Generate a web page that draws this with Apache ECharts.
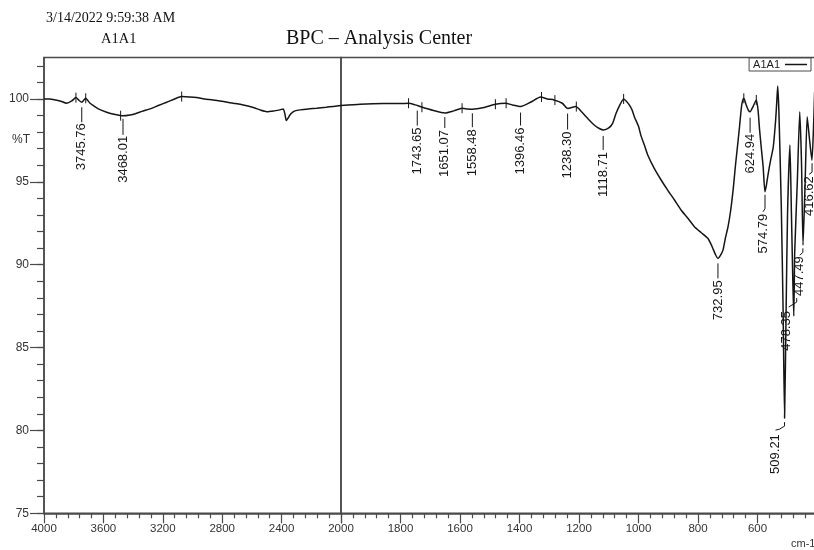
<!DOCTYPE html>
<html>
<head>
<meta charset="utf-8">
<script src="https://cdn.jsdelivr.net/npm/echarts@6/dist/echarts.min.js"></script>
<style>
  html, body { margin: 0; padding: 0; background: #fff; }
  #chart { width: 814px; height: 550px; }
</style>
</head>
<body>
<div id="chart"></div>
<script>
// FTIR transmittance spectrum of sample A1A1: wavenumber (cm-1) vs %T.
// The wavenumber axis is split at 2000 cm-1, with an expanded scale below it.

// 4000–2000 cm-1 segment [wavenumber, %T]
const specHigh = [
  [4000, 100.0], [3960, 100.0], [3920, 99.93], [3892, 99.88], [3847, 99.74],
  [3813, 99.88], [3785, 100.08], [3765, 99.92], [3745, 99.8], [3730, 99.95],
  [3719, 100.04], [3705, 99.9], [3690, 99.74], [3660, 99.55], [3634, 99.4],
  [3578, 99.2], [3520, 99.06], [3470, 98.98], [3420, 99.03], [3380, 99.12],
  [3340, 99.25], [3286, 99.4], [3230, 99.6], [3174, 99.8], [3120, 100.0],
  [3073, 100.14], [3020, 100.12], [2972, 100.08], [2920, 100.0], [2860, 99.94],
  [2790, 99.84], [2725, 99.74], [2650, 99.62], [2590, 99.48], [2540, 99.32],
  [2500, 99.23], [2450, 99.28], [2411, 99.34], [2389, 99.4], [2378, 99.1],
  [2368, 98.7], [2356, 98.85], [2343, 99.05], [2325, 99.2], [2310, 99.28],
  [2276, 99.34], [2220, 99.4], [2164, 99.44], [2100, 99.5], [2052, 99.55],
  [2000, 99.6]
];

// 2000–400 cm-1 segment [wavenumber, %T]
const specLow = [
  [2000, 99.6], [1936, 99.68], [1857, 99.72], [1801, 99.72], [1773, 99.74],
  [1750, 99.64], [1734, 99.54], [1689, 99.3], [1651, 99.15], [1621, 99.28],
  [1593, 99.44], [1575, 99.4], [1559, 99.38], [1520, 99.48], [1481, 99.68],
  [1447, 99.74], [1424, 99.64], [1396, 99.54], [1363, 99.8], [1329, 100.12],
  [1306, 100.0], [1284, 99.94], [1256, 99.74], [1238, 99.42], [1211, 99.54],
  [1190, 99.2], [1171, 98.83], [1149, 98.43], [1130, 98.2], [1118, 98.13],
  [1100, 98.25], [1087, 98.53], [1076, 99.1], [1065, 99.55], [1050, 100.0],
  [1040, 99.85], [1031, 99.64], [1022, 99.35], [1014, 98.93], [1000, 98.35],
  [992, 97.8], [980, 97.2], [969, 96.62], [947, 95.81], [924, 95.11],
  [902, 94.5], [879, 93.9], [857, 93.3], [834, 92.8], [812, 92.29],
  [789, 91.93], [767, 91.59], [758, 91.3], [750, 90.98], [741, 90.6],
  [733, 90.38], [725, 90.55], [716, 90.88], [708, 91.6], [699, 92.29],
  [690, 93.3], [682, 94.5], [674, 96.0], [665, 97.52], [660, 98.4],
  [654, 99.5], [650, 99.9], [646, 100.04], [638, 99.64], [630, 99.3],
  [625, 99.23], [615, 99.54], [604, 99.94], [598, 99.3], [593, 98.13],
  [587, 97.0], [581, 95.91], [575, 94.4], [570, 94.8], [564, 95.5],
  [556, 96.3], [547, 97.1], [539, 98.73], [535, 99.9], [532, 100.78],
  [528, 99.2], [520, 93.5], [514, 87.3], [509, 80.74], [504, 87.0],
  [499, 93.1], [491, 97.22], [486, 93.1], [481, 88.8], [478, 86.9],
  [475, 90.7], [466, 95.1], [458, 99.23], [452, 96.1], [447, 91.17],
  [440, 94.9], [433, 98.93], [426, 97.72], [417, 96.3], [412, 98.13],
  [408, 100.4]
];

// Picked absorption bands: wavenumber and %T at the band
const peakWn = [3745.76, 3468.01, 1743.65, 1651.07, 1558.48, 1396.46, 1238.30,
                1118.71, 732.95, 624.94, 574.79, 509.21, 478.35, 447.49, 416.62];
const peakT  = [99.8, 98.98, 99.6, 99.15, 99.38, 99.54, 99.42,
                98.13, 90.38, 99.23, 94.4, 80.74, 86.9, 91.17, 96.3];

// Band-limit markers drawn as short crossing ticks on the trace
const markWn = [3785, 3719, 3484, 3073, 1773, 1728, 1593, 1481, 1445, 1326, 1281, 1209, 1050, 646, 604];
const markT  = [100.08, 100.04, 98.99, 100.14, 99.74, 99.5, 99.44, 99.68, 99.74, 100.12, 99.93, 99.54, 100.0, 100.04, 99.94];

// Axis tick values
const yMajor = [75, 80, 85, 90, 95, 100];
const yMinor = [75, 76, 77, 78, 79, 80, 81, 82, 83, 84, 85, 86, 87, 88, 89, 90, 91, 92, 93, 94, 95, 96, 97, 98, 99, 100, 101, 102];

// Leader/label placement for each band label (pixel offsets from the band point)
const defaultLeader = { path: [[0, 5], [0, 20]], dx: 0, top: 22 };
const leaderLayout = {
  '3745.76': { path: [[0, 5], [0, 20]], dx: 0, top: 21 },
  '3468.01': { path: [[0, 3], [0, 19]], dx: 0, top: 20 },
  '1651.07': { path: [[0, 4], [0, 15]], dx: 0, top: 17 },
  '1558.48': { path: [[0, 4], [0, 18]], dx: 0, top: 20 },
  '1396.46': { path: [[0, 6], [0, 19]], dx: 0, top: 21 },
  '1238.30': { path: [[0, 5], [0, 21]], dx: 0, top: 23 },
  '1118.71': { path: [[0, 6], [0, 20]], dx: 0, top: 22 },
  '624.94':  { path: [[0, 6], [0, 21]], dx: 0, top: 22 },
  '574.79':  { path: [[0, 3], [0, 17], [-2, 20]], dx: -2, top: 22 },
  '509.21':  { path: [[0, 4], [0, 8], [-5, 11], [-9, 12]], dx: -9, top: 16 },
  '478.35':  { path: [[3, -18], [3, -14], [-5, -9]], dx: -7, top: -5 },
  '447.49':  { path: [[0, 3], [0, 7], [-3, 10]], dx: -3, top: 11 },
  '416.62':  { path: [[0, 3], [0, 12], [-3, 14]], dx: -3, top: 16 }
};

const INK = '#151515';
const AXIS = '#4a4a4a';
const SANS = '"Liberation Sans", Arial, sans-serif';
const SERIF = '"Liberation Serif", "Times New Roman", serif';

const peaks = peakWn.map((w, i) => [w, peakT[i]]);
const marks = markWn.map((w, i) => [w, markT[i]]);

function renderPeakLabel(params, api) {
  const wn = api.value(0);
  const text = wn.toFixed(2);
  const p = api.coord([wn, api.value(1)]);
  const lay = leaderLayout[text] || defaultLeader;
  const pts = lay.path.map(d => [p[0] + d[0], p[1] + d[1]]);
  return {
    type: 'group',
    children: [
      { type: 'polyline', shape: { points: pts },
        style: { stroke: INK, lineWidth: 1, fill: 'none' } },
      { type: 'text', x: p[0] + lay.dx, y: p[1] + lay.top, rotation: Math.PI / 2,
        style: { text: text, align: 'right', verticalAlign: 'middle',
                 font: '13px ' + SANS, fill: INK } }
    ]
  };
}

function renderMark(params, api) {
  const p = api.coord([api.value(0), api.value(1)]);
  return { type: 'line', shape: { x1: p[0], y1: p[1] - 5, x2: p[0], y2: p[1] + 5 },
           style: { stroke: INK, lineWidth: 1 } };
}

const xCommon = {
  type: 'value', inverse: true,
  axisLine: { show: true, lineStyle: { color: AXIS, width: 1.5 } },
  axisTick: { show: true, length: 10, lineStyle: { color: AXIS, width: 1.2 } },
  minorTick: { show: true, splitNumber: 5, length: 5, lineStyle: { color: AXIS, width: 1.2 } },
  axisLabel: { fontFamily: SANS, fontSize: 11.5, color: '#333', margin: 10,
               formatter: v => String(v) },
  splitLine: { show: false }, minorSplitLine: { show: false }
};

const chart = echarts.init(document.getElementById('chart'), null, { renderer: 'canvas' });
chart.setOption({
  animation: false,
  backgroundColor: '#fff',
  grid: [
    { left: 44, top: 57.5, width: 297, bottom: 36.7, show: true, outerBoundsMode: 'none',
      containLabel: false, borderColor: AXIS, borderWidth: 1.5, backgroundColor: 'transparent' },
    { left: 341, top: 57.5, width: 476, bottom: 36.7, show: true, outerBoundsMode: 'none',
      containLabel: false, borderColor: AXIS, borderWidth: 1.5, backgroundColor: 'transparent' }
  ],
  xAxis: [
    Object.assign({}, xCommon, { gridIndex: 0, min: 2000, max: 4000, interval: 400 }),
    Object.assign({}, xCommon, { gridIndex: 1, min: 400, max: 2000, interval: 200,
      axisLabel: Object.assign({}, xCommon.axisLabel, {
        formatter: v => (v === 2000 || v === 400) ? '' : String(v) }) })
  ],
  yAxis: [
    { type: 'value', gridIndex: 0, min: 75, max: 102.5, position: 'left',
      axisLine: { show: true, lineStyle: { color: AXIS, width: 1.5 } },
      axisTick: { show: true, length: 14, customValues: yMajor, lineStyle: { color: AXIS, width: 1.2 } },
      axisLabel: { customValues: yMajor, fontFamily: SANS, fontSize: 12, color: '#333', margin: 15 },
      splitLine: { show: false } },
    { type: 'value', gridIndex: 0, min: 75, max: 102.5, position: 'left',
      axisLine: { show: false },
      axisTick: { show: true, length: 7, customValues: yMinor, lineStyle: { color: AXIS, width: 1.2 } },
      axisLabel: { show: false }, splitLine: { show: false } },
    { type: 'value', gridIndex: 1, min: 75, max: 102.5,
      axisLine: { show: false }, axisTick: { show: false },
      axisLabel: { show: false }, splitLine: { show: false } }
  ],
  legend: {
    data: ['A1A1'], right: 3, top: 58, orient: 'horizontal', align: 'right',
    icon: 'rect', itemWidth: 22, itemHeight: 1.5, padding: [1, 4, 1, 4],
    borderColor: AXIS, borderWidth: 1, backgroundColor: '#fff',
    textStyle: { fontFamily: SANS, fontSize: 11, color: '#222' }
  },
  series: [
    { name: 'A1A1', type: 'line', xAxisIndex: 0, yAxisIndex: 0, data: specHigh,
      symbol: 'none', smooth: 0.2, lineStyle: { color: INK, width: 1.5 }, itemStyle: { color: INK } },
    { name: 'A1A1', type: 'line', xAxisIndex: 1, yAxisIndex: 2, data: specLow,
      symbol: 'none', smooth: 0.2, lineStyle: { color: INK, width: 1.5 }, itemStyle: { color: INK } },
    { type: 'custom', xAxisIndex: 0, yAxisIndex: 0, renderItem: renderMark, silent: true,
      data: marks.filter(d => d[0] >= 2000) },
    { type: 'custom', xAxisIndex: 1, yAxisIndex: 2, renderItem: renderMark, silent: true,
      data: marks.filter(d => d[0] < 2000) },
    { type: 'custom', xAxisIndex: 0, yAxisIndex: 0, renderItem: renderPeakLabel, silent: true,
      data: peaks.filter(d => d[0] >= 2000) },
    { type: 'custom', xAxisIndex: 1, yAxisIndex: 2, renderItem: renderPeakLabel, silent: true,
      data: peaks.filter(d => d[0] < 2000) }
  ],
  graphic: [
    { type: 'text', left: 46, top: 11, style: { text: '3/14/2022 9:59:38 AM', font: '14px ' + SERIF, fill: '#111' } },
    { type: 'text', left: 101, top: 32, style: { text: 'A1A1', font: '14.5px ' + SERIF, fill: '#111' } },
    { type: 'text', left: 286, top: 29, style: { text: 'BPC \u2013 Analysis Center', font: '20px ' + SERIF, fill: '#111' } },
    { type: 'text', left: 12, top: 134, style: { text: '%T', font: '12px ' + SANS, fill: '#333' } },
    { type: 'text', left: 791, top: 538, style: { text: 'cm-1', font: '11px ' + SANS, fill: '#333' } }
  ]
});
</script>
</body>
</html>
